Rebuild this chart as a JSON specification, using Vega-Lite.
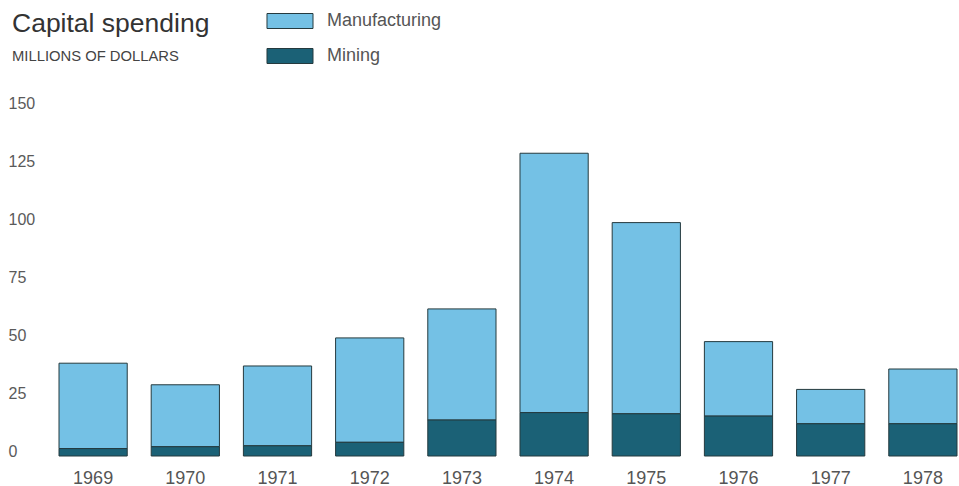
{
  "$schema": "https://vega.github.io/schema/vega-lite/v6.json",
  "width": 898,
  "height": 348,
  "autosize": "none",
  "padding": {"left": 59, "top": 108, "right": 2, "bottom": 30},
  "background": "white",
  "view": {"stroke": null},
  "title": {
    "text": "Capital spending",
    "subtitle": "MILLIONS OF DOLLARS",
    "anchor": "start",
    "orient": "top",
    "frame": "group",
    "dx": -47,
    "dy": 52,
    "offset": 0,
    "font": "Liberation Sans",
    "fontSize": 26.5,
    "fontWeight": "normal",
    "color": "#333333",
    "subtitleFont": "Liberation Sans",
    "subtitleFontSize": 14.8,
    "subtitleColor": "#444444",
    "subtitlePadding": 12
  },
  "data": {
    "values": [
      {"year": "1969", "type": "Manufacturing", "value": 36.8},
      {"year": "1969", "type": "Mining", "value": 3.2},
      {"year": "1970", "type": "Manufacturing", "value": 26.7},
      {"year": "1970", "type": "Mining", "value": 4.0},
      {"year": "1971", "type": "Manufacturing", "value": 34.4},
      {"year": "1971", "type": "Mining", "value": 4.4},
      {"year": "1972", "type": "Manufacturing", "value": 45.0},
      {"year": "1972", "type": "Mining", "value": 5.9},
      {"year": "1973", "type": "Manufacturing", "value": 47.9},
      {"year": "1973", "type": "Mining", "value": 15.5},
      {"year": "1974", "type": "Manufacturing", "value": 111.8},
      {"year": "1974", "type": "Mining", "value": 18.7},
      {"year": "1975", "type": "Manufacturing", "value": 82.4},
      {"year": "1975", "type": "Mining", "value": 18.2},
      {"year": "1976", "type": "Manufacturing", "value": 32.1},
      {"year": "1976", "type": "Mining", "value": 17.2},
      {"year": "1977", "type": "Manufacturing", "value": 14.8},
      {"year": "1977", "type": "Mining", "value": 13.9},
      {"year": "1978", "type": "Manufacturing", "value": 23.6},
      {"year": "1978", "type": "Mining", "value": 13.9}
    ]
  },
  "mark": {"type": "bar", "stroke": "#253a3e", "strokeWidth": 1},
  "encoding": {
    "x": {
      "field": "year",
      "type": "ordinal",
      "scale": {"paddingInner": 0.26, "paddingOuter": 0},
      "axis": {
        "title": null,
        "domain": false,
        "ticks": false,
        "labelAngle": 0,
        "labelFont": "Liberation Sans",
        "labelFontSize": 18,
        "labelColor": "#555555",
        "labelPadding": 13
      }
    },
    "y": {
      "field": "value",
      "type": "quantitative",
      "stack": "zero",
      "scale": {"domain": [0, 150], "nice": false},
      "axis": {
        "title": null,
        "values": [0, 25, 50, 75, 100, 125, 150],
        "domain": false,
        "ticks": false,
        "grid": false,
        "labelAlign": "left",
        "labelBaseline": "alphabetic",
        "labelPadding": 51,
        "labelFont": "Liberation Sans",
        "labelFontSize": 16,
        "labelColor": "#5a5a5a"
      }
    },
    "color": {
      "field": "type",
      "type": "nominal",
      "scale": {"domain": ["Manufacturing", "Mining"], "range": ["#74c1e5", "#1b6176"]},
      "legend": {
        "title": null,
        "orient": "none",
        "legendX": 222,
        "legendY": -96,
        "padding": 0,
        "symbolType": "M-3.067,-1H3.067V1H-3.067Z",
        "symbolSize": 225,
        "symbolStrokeColor": "#253a3e",
        "symbolStrokeWidth": 1,
        "symbolOpacity": 1,
        "labelOffset": 28,
        "labelFont": "Liberation Sans",
        "labelFontSize": 18,
        "labelColor": "#555555",
        "rowPadding": 15
      }
    },
    "order": {"field": "type", "sort": "descending"}
  }
}
